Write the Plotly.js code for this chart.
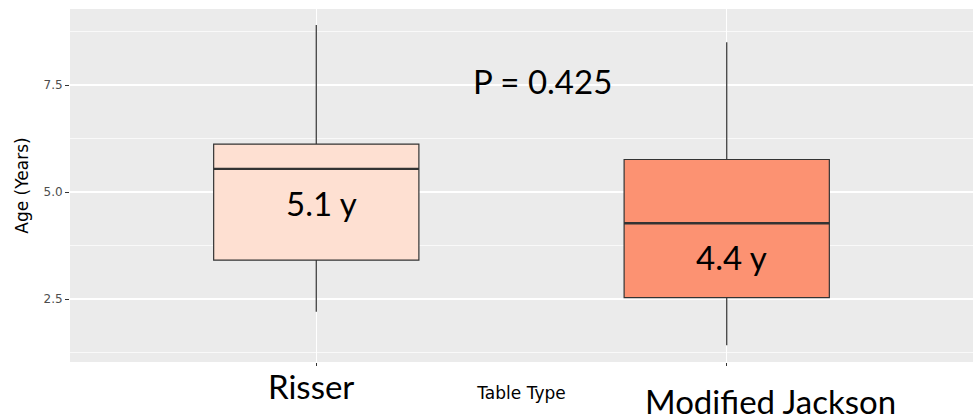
<!DOCTYPE html>
<html>
<head>
<meta charset="utf-8">
<script src="https://cdn.plot.ly/plotly-3.0.1.min.js"></script>
<style>html,body{margin:0;padding:0;background:#fff;}#chart{width:977px;height:419px;}</style>
</head>
<body>
<div id="chart"></div>
<script>
// Data
const categories = ["Risser", "Modified Jackson"];
const lowerWhisker = [2.20, 1.42];
const q1 = [3.41, 2.53];
const medians = [5.54, 4.27];
const q3 = [6.12, 5.76];
const upperWhisker = [8.90, 8.50];
const fills = ["#fee0d2", "#fc9272"];
const medianLabels = ["5.1 y", "4.4 y"];
const pValueText = "P = 0.425";
const yTickVals = [2.5, 5.0, 7.5];
const yTickText = ["2.5", "5.0", "7.5"];

const boxWidth = 0.5;
const traces = categories.map((c, i) => ({
  type: "box",
  x: [c],
  q1: [q1[i]],
  median: [medians[i]],
  q3: [q3[i]],
  lowerfence: [lowerWhisker[i]],
  upperfence: [upperWhisker[i]],
  width: boxWidth,
  fillcolor: fills[i],
  line: {color: "#333333", width: 1.2},
  whiskerwidth: 0,
  boxpoints: false,
  hoverinfo: "skip",
  showlegend: false
}));

const shapes = categories.map((c, i) => ({
  type: "line", xref: "x", yref: "y",
  x0: i - boxWidth / 2, x1: i + boxWidth / 2,
  y0: medians[i], y1: medians[i],
  line: {color: "#333333", width: 2.4}
}));

const bigFont = {family: "Lato, 'Open Sans', sans-serif", size: 33, color: "#000000"};
const annotations = [
  {text: categories[0], xref: "paper", yref: "paper", x: 0.2669, y: -0.069, xanchor: "center", yanchor: "middle", showarrow: false, font: bigFont},
  {text: categories[1], xref: "paper", yref: "paper", x: 0.7752, y: -0.111, xanchor: "center", yanchor: "middle", showarrow: false, font: bigFont},
  {text: pValueText, xref: "paper", yref: "paper", x: 0.5238, y: 0.797, xanchor: "center", yanchor: "middle", showarrow: false, font: bigFont},
  {text: medianLabels[0], xref: "paper", yref: "paper", x: 0.279, y: 0.450, xanchor: "center", yanchor: "middle", showarrow: false, font: bigFont},
  {text: medianLabels[1], xref: "paper", yref: "paper", x: 0.7326, y: 0.297, xanchor: "center", yanchor: "middle", showarrow: false, font: bigFont}
];

const layout = {
  width: 977, height: 419,
  margin: {l: 70, r: 4, t: 9, b: 57},
  paper_bgcolor: "#ffffff",
  plot_bgcolor: "#ebebeb",
  xaxis: {
    type: "category",
    range: [-0.6, 1.6],
    showticklabels: false,
    ticks: "outside", ticklen: 3, tickcolor: "#333333", tickwidth: 1,
    showgrid: true, gridcolor: "#ffffff", gridwidth: 1.4,
    zeroline: false, showline: false,
    title: {text: "Table Type", font: {family: "DejaVu Sans", size: 17, color: "#000000"}, standoff: 22}
  },
  yaxis: {
    range: [1.028, 9.276],
    tickvals: yTickVals, ticktext: yTickText,
    ticks: "outside", ticklen: 4, tickcolor: "#333333", tickwidth: 1,
    tickfont: {family: "DejaVu Sans", size: 12, color: "#4d4d4d"},
    showgrid: true, gridcolor: "#ffffff", gridwidth: 1.4,
    minor: {tickvals: [1.25, 3.75, 6.25, 8.75], showgrid: true, gridcolor: "#ffffff", gridwidth: 0.7, ticks: ""},
    zeroline: false, showline: false,
    title: {text: "Age (Years)", font: {family: "DejaVu Sans", size: 17, color: "#000000"}, standoff: 10}
  },
  shapes: shapes,
  annotations: annotations
};

Plotly.newPlot("chart", traces, layout, {staticPlot: true});
</script>
</body>
</html>
